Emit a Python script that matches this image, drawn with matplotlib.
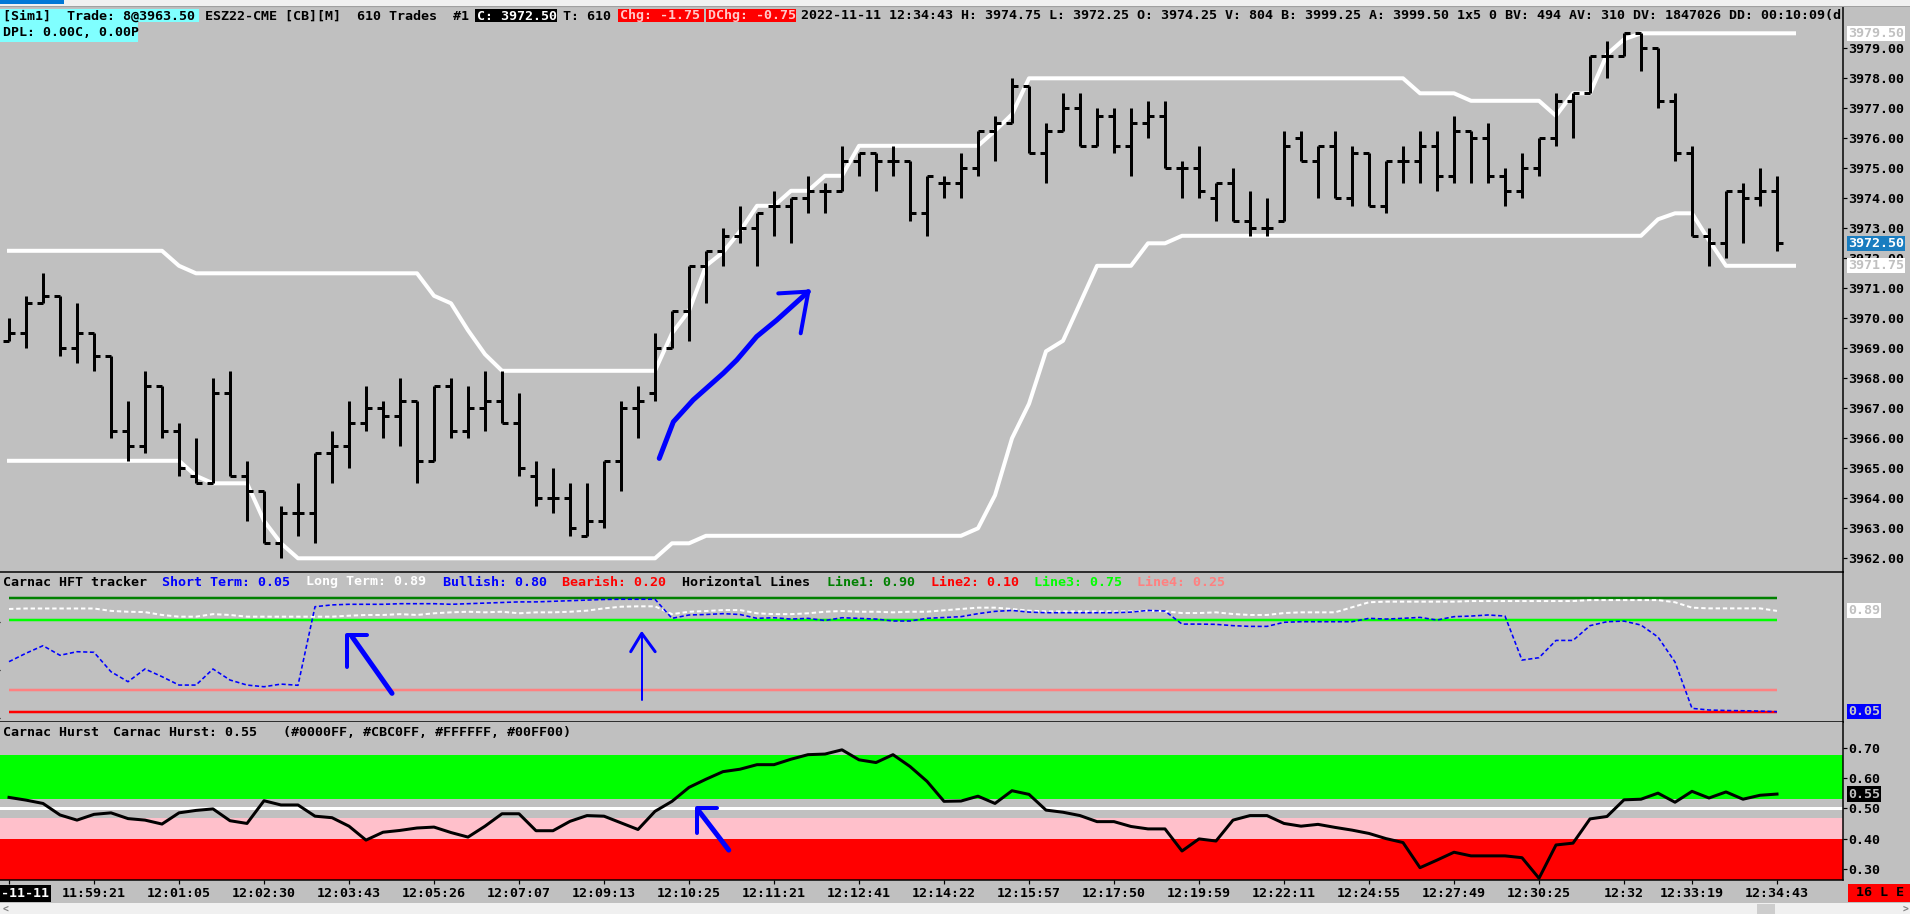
import matplotlib
matplotlib.use("Agg")
import matplotlib.pyplot as plt
import matplotlib.transforms as mtransforms
from matplotlib.lines import Line2D
from matplotlib.patches import Rectangle
from matplotlib.transforms import Bbox

# ---- bar data (ESZ22, one bar per 610 trades) ----
bar_open = [
  3969.25, 3969.5, 3970.5, 3970.75, 3969.0, 3969.5, 3968.75, 3966.25, 3965.75, 3967.75,
  3966.25, 3964.75, 3964.5, 3967.5, 3964.75, 3964.25, 3962.5, 3963.5, 3963.5, 3965.5,
  3965.75, 3966.5, 3967.0, 3966.75, 3967.25, 3965.25, 3967.75, 3966.25, 3967.0, 3967.25,
  3966.5, 3964.75, 3964.0, 3964.0, 3962.75, 3963.25, 3965.25, 3967.0, 3967.5, 3969.0,
  3970.25, 3971.75, 3972.25, 3972.75, 3973.0, 3973.75, 3973.75, 3974.0, 3974.25, 3974.25,
  3975.25, 3975.5, 3975.25, 3975.25, 3973.5, 3974.5, 3974.5, 3975.0, 3976.25, 3976.5,
  3977.75, 3975.5, 3976.25, 3977.0, 3975.75, 3976.75, 3975.75, 3976.5, 3976.75, 3975.0,
  3975.0, 3974.0, 3974.5, 3973.25, 3973.0, 3973.25, 3976.0, 3975.25, 3975.75, 3974.0,
  3975.5, 3973.75, 3975.25, 3975.25, 3975.75, 3974.75, 3976.25, 3976.0, 3974.75, 3974.25,
  3975.0, 3976.0, 3977.25, 3977.5, 3978.75, 3978.75, 3979.5, 3979.0, 3977.25, 3975.5,
  3972.75, 3972.5, 3974.25, 3974.0, 3974.25]
bar_high = [
  3970.0, 3970.75, 3971.5, 3970.75, 3970.5, 3969.5, 3968.75, 3967.25, 3968.25, 3967.75,
  3966.5, 3966.0, 3968.0, 3968.25, 3965.25, 3964.25, 3963.75, 3964.5, 3965.5, 3966.25,
  3967.25, 3967.75, 3967.25, 3968.0, 3967.25, 3967.75, 3968.0, 3967.75, 3968.25, 3968.25,
  3967.5, 3965.25, 3965.0, 3964.5, 3964.5, 3965.25, 3967.25, 3967.75, 3969.5, 3970.25,
  3971.75, 3972.25, 3973.0, 3973.75, 3973.5, 3974.25, 3974.0, 3974.75, 3974.5, 3975.75,
  3975.5, 3975.5, 3975.75, 3975.25, 3974.75, 3974.75, 3975.5, 3976.25, 3976.75, 3978.0,
  3977.75, 3976.5, 3977.5, 3977.5, 3977.0, 3977.0, 3977.0, 3977.25, 3977.25, 3975.25,
  3975.75, 3974.5, 3975.0, 3974.25, 3974.0, 3976.25, 3976.25, 3975.75, 3976.25, 3975.75,
  3975.5, 3975.25, 3975.75, 3976.25, 3976.25, 3976.75, 3976.25, 3976.5, 3975.0, 3975.5,
  3976.0, 3977.5, 3977.5, 3978.75, 3979.25, 3979.5, 3979.5, 3979.0, 3977.5, 3975.75,
  3973.0, 3974.25, 3974.5, 3975.0, 3974.75]
bar_low = [
  3969.25, 3969.0, 3970.5, 3968.75, 3968.5, 3968.25, 3966.0, 3965.25, 3965.5, 3966.0,
  3964.75, 3964.5, 3964.5, 3964.75, 3963.25, 3962.5, 3962.0, 3962.75, 3962.5, 3964.5,
  3965.0, 3966.25, 3966.0, 3965.75, 3964.5, 3965.25, 3966.0, 3966.0, 3966.25, 3966.5,
  3964.75, 3963.75, 3963.5, 3962.75, 3962.75, 3963.0, 3964.25, 3966.0, 3967.25, 3969.0,
  3969.25, 3970.5, 3971.75, 3972.5, 3971.75, 3972.75, 3972.5, 3973.5, 3973.5, 3974.25,
  3974.75, 3974.25, 3974.75, 3973.25, 3972.75, 3974.0, 3974.0, 3974.75, 3975.25, 3976.5,
  3975.5, 3974.5, 3976.25, 3975.75, 3975.75, 3975.5, 3974.75, 3976.0, 3975.0, 3974.0,
  3974.0, 3973.25, 3973.25, 3972.75, 3972.75, 3973.25, 3975.25, 3974.0, 3974.0, 3973.75,
  3973.75, 3973.5, 3974.5, 3974.5, 3974.25, 3974.5, 3974.5, 3974.5, 3973.75, 3974.0,
  3974.75, 3975.75, 3976.0, 3977.5, 3978.0, 3978.75, 3978.25, 3977.0, 3975.25, 3972.75,
  3971.75, 3972.0, 3972.5, 3973.75, 3972.25]
bar_close = [
  3969.5, 3970.5, 3970.75, 3969.0, 3969.5, 3968.75, 3966.25, 3965.75, 3967.75, 3966.25,
  3965.0, 3964.5, 3967.5, 3964.75, 3964.25, 3962.5, 3963.5, 3963.5, 3965.5, 3965.75,
  3966.5, 3967.0, 3966.75, 3967.25, 3965.25, 3967.75, 3966.25, 3967.0, 3967.25, 3966.5,
  3965.0, 3964.0, 3964.0, 3963.0, 3963.25, 3965.25, 3967.0, 3967.25, 3969.0, 3970.25,
  3971.75, 3972.25, 3972.75, 3973.0, 3973.5, 3973.75, 3974.0, 3974.25, 3974.25, 3975.25,
  3975.5, 3975.25, 3975.25, 3973.5, 3974.75, 3974.5, 3975.0, 3976.25, 3976.5, 3977.75,
  3975.5, 3976.25, 3977.0, 3975.75, 3976.75, 3975.75, 3976.5, 3976.75, 3975.0, 3975.0,
  3974.25, 3974.5, 3973.25, 3973.0, 3973.0, 3975.75, 3975.25, 3975.75, 3974.0, 3975.5,
  3973.75, 3975.25, 3975.25, 3975.75, 3974.75, 3976.25, 3976.0, 3974.75, 3974.25, 3975.0,
  3976.0, 3977.25, 3977.5, 3978.75, 3978.75, 3979.5, 3979.0, 3977.25, 3975.5, 3972.75,
  3972.5, 3974.25, 3974.0, 3974.25, 3972.5]

# channel lines (one point further than the bars)
upper_band = [
  3972.25, 3972.25, 3972.25, 3972.25, 3972.25, 3972.25, 3972.25, 3972.25, 3972.25, 3972.25,
  3971.75, 3971.5, 3971.5, 3971.5, 3971.5, 3971.5, 3971.5, 3971.5, 3971.5, 3971.5,
  3971.5, 3971.5, 3971.5, 3971.5, 3971.5, 3970.75, 3970.5, 3969.6, 3968.8, 3968.25,
  3968.25, 3968.25, 3968.25, 3968.25, 3968.25, 3968.25, 3968.25, 3968.25, 3968.25, 3969.5,
  3970.25, 3971.75, 3972.2, 3972.9, 3973.75, 3973.75, 3974.25, 3974.25, 3974.75, 3974.75,
  3975.75, 3975.75, 3975.75, 3975.75, 3975.75, 3975.75, 3975.75, 3975.75, 3976.25, 3976.8,
  3978.0, 3978.0, 3978.0, 3978.0, 3978.0, 3978.0, 3978.0, 3978.0, 3978.0, 3978.0,
  3978.0, 3978.0, 3978.0, 3978.0, 3978.0, 3978.0, 3978.0, 3978.0, 3978.0, 3978.0,
  3978.0, 3978.0, 3978.0, 3977.5, 3977.5, 3977.5, 3977.25, 3977.25, 3977.25, 3977.25,
  3977.25, 3976.75, 3977.5, 3977.5, 3978.8, 3979.3, 3979.5, 3979.5, 3979.5, 3979.5,
  3979.5, 3979.5, 3979.5, 3979.5, 3979.5, 3979.5]
lower_band = [
  3965.25, 3965.25, 3965.25, 3965.25, 3965.25, 3965.25, 3965.25, 3965.25, 3965.25, 3965.25,
  3965.25, 3964.75, 3964.5, 3964.5, 3964.5, 3963.25, 3962.5, 3962.0, 3962.0, 3962.0,
  3962.0, 3962.0, 3962.0, 3962.0, 3962.0, 3962.0, 3962.0, 3962.0, 3962.0, 3962.0,
  3962.0, 3962.0, 3962.0, 3962.0, 3962.0, 3962.0, 3962.0, 3962.0, 3962.0, 3962.5,
  3962.5, 3962.75, 3962.75, 3962.75, 3962.75, 3962.75, 3962.75, 3962.75, 3962.75, 3962.75,
  3962.75, 3962.75, 3962.75, 3962.75, 3962.75, 3962.75, 3962.75, 3963.0, 3964.1, 3966.0,
  3967.15, 3968.9, 3969.25, 3970.5, 3971.75, 3971.75, 3971.75, 3972.5, 3972.5, 3972.75,
  3972.75, 3972.75, 3972.75, 3972.75, 3972.75, 3972.75, 3972.75, 3972.75, 3972.75, 3972.75,
  3972.75, 3972.75, 3972.75, 3972.75, 3972.75, 3972.75, 3972.75, 3972.75, 3972.75, 3972.75,
  3972.75, 3972.75, 3972.75, 3972.75, 3972.75, 3972.75, 3972.75, 3973.3, 3973.5, 3973.5,
  3972.6, 3971.75, 3971.75, 3971.75, 3971.75, 3971.75]

# Carnac HFT tracker
short_term = [
  0.467, 0.537, 0.60, 0.52, 0.55, 0.545, 0.383, 0.30, 0.406, 0.342,
  0.272, 0.272, 0.406, 0.314, 0.272, 0.258, 0.28, 0.27, 0.925, 0.94,
  0.945, 0.945, 0.945, 0.95, 0.95, 0.95, 0.945, 0.95, 0.955, 0.96,
  0.965, 0.965, 0.97, 0.975, 0.98, 0.985, 0.987, 0.987, 0.987, 0.828,
  0.856, 0.86, 0.867, 0.86, 0.828, 0.833, 0.822, 0.828, 0.81, 0.833,
  0.828, 0.822, 0.806, 0.806, 0.828, 0.835, 0.842, 0.867, 0.886, 0.894,
  0.88, 0.875, 0.875, 0.875, 0.875, 0.875, 0.88, 0.894, 0.889, 0.78,
  0.78, 0.778, 0.767, 0.761, 0.761, 0.795, 0.80, 0.80, 0.80, 0.80,
  0.828, 0.822, 0.828, 0.836, 0.814, 0.842, 0.847, 0.856, 0.847, 0.48,
  0.50, 0.644, 0.644, 0.767, 0.80, 0.805, 0.772, 0.672, 0.464, 0.078,
  0.064, 0.06, 0.058, 0.055, 0.05]
long_term = [
  0.906, 0.91, 0.91, 0.91, 0.91, 0.91, 0.89, 0.883, 0.88, 0.856,
  0.842, 0.842, 0.863, 0.856, 0.842, 0.842, 0.842, 0.842, 0.842, 0.842,
  0.85, 0.856, 0.856, 0.863, 0.856, 0.87, 0.878, 0.883, 0.878, 0.883,
  0.87, 0.878, 0.878, 0.883, 0.892, 0.911, 0.925, 0.928, 0.928, 0.863,
  0.883, 0.889, 0.897, 0.897, 0.87, 0.863, 0.863, 0.87, 0.883, 0.889,
  0.883, 0.883, 0.878, 0.883, 0.883, 0.895, 0.906, 0.917, 0.917, 0.906,
  0.892, 0.886, 0.886, 0.886, 0.886, 0.886, 0.886, 0.892, 0.886, 0.872,
  0.872, 0.878, 0.864, 0.856, 0.856, 0.872, 0.878, 0.878, 0.878, 0.92,
  0.962, 0.967, 0.967, 0.967, 0.967, 0.967, 0.972, 0.972, 0.972, 0.972,
  0.972, 0.972, 0.972, 0.98, 0.98, 0.98, 0.98, 0.98, 0.962, 0.917,
  0.911, 0.911, 0.911, 0.911, 0.89]
hft_levels = [0.90, 0.10, 0.75, 0.25]
hft_level_colors = ['#008000', '#FF0000', '#00FF00', '#FF8080']

# Carnac Hurst
hurst = [
  0.536, 0.527, 0.516, 0.478, 0.461, 0.48, 0.485, 0.466, 0.461, 0.448,
  0.485, 0.493, 0.498, 0.459, 0.45, 0.525, 0.511, 0.511, 0.474, 0.469,
  0.441, 0.395, 0.421, 0.427, 0.435, 0.438, 0.42, 0.405, 0.441, 0.482,
  0.482, 0.426, 0.426, 0.457, 0.476, 0.474, 0.452, 0.43, 0.49, 0.523,
  0.569, 0.596, 0.621, 0.629, 0.644, 0.644, 0.662, 0.677, 0.679, 0.693,
  0.66, 0.651, 0.677, 0.638, 0.589, 0.523, 0.524, 0.54, 0.516, 0.558,
  0.546, 0.494, 0.487, 0.476, 0.456, 0.456, 0.44, 0.432, 0.432, 0.359,
  0.399, 0.392, 0.461, 0.476, 0.476, 0.45, 0.441, 0.447, 0.437, 0.428,
  0.417, 0.40, 0.387, 0.304, 0.329, 0.355, 0.343, 0.343, 0.343, 0.337,
  0.269, 0.379, 0.385, 0.465, 0.473, 0.528, 0.53, 0.55, 0.52, 0.556,
  0.534, 0.554, 0.53, 0.543, 0.547]
hurst_green = (0.53, 0.676)
hurst_pink = (0.398, 0.467)
hurst_red = (0.0, 0.398)
hurst_mid = 0.50

# axis labels
tick_bars = [0, 5, 10, 15, 20, 25, 30, 35, 40, 45, 50, 55, 60, 65, 70, 75, 80, 85, 90, 95, 99, 104]
tick_times = ['2022-11-11', '11:59:21', '12:01:05', '12:02:30', '12:03:43', '12:05:26',
              '12:07:07', '12:09:13', '12:10:25', '12:11:21', '12:12:41', '12:14:22',
              '12:15:57', '12:17:50', '12:19:59', '12:22:11', '12:24:55', '12:27:49',
              '12:30:25', '12:32', '12:33:19', '12:34:43']
price_ticks = [3962, 3963, 3964, 3965, 3966, 3967, 3968, 3969, 3970,
               3971, 3972, 3973, 3974, 3975, 3976, 3977, 3978, 3979]
hft_ticks = [0.80, 0.40, 0.00]
hurst_ticks = [0.30, 0.40, 0.50, 0.60, 0.70]

# hand drawn blue arrows (bar index, value)
trend_arrow = [(38.25, 3965.33), (39.08, 3966.55), (40.25, 3967.28), (42.02, 3968.17),
               (42.81, 3968.61), (43.98, 3969.39), (45.16, 3969.94), (47.02, 3970.89)]
trend_arrow_head = [(45.25, 3970.83), (47.02, 3970.89), (46.57, 3969.5)]
hft_arrow = [(22.53, 0.203), (20.18, 0.675)]
hft_arrow_head = [(21.06, 0.689), (19.88, 0.689), (19.88, 0.425)]
hft_pointer = [(37.22, 0.147), (37.22, 0.703)]
hft_pointer_head = [(36.57, 0.55), (37.22, 0.703), (38.01, 0.55)]
hurst_arrow = [(42.34, 0.362), (40.54, 0.494)]
hurst_arrow_head = [(41.62, 0.501), (40.46, 0.501), (40.46, 0.4175)]

W, H = 1910, 914
BG = '#C0C0C0'
PT = 0.72          # points per pixel at 100 dpi
AXIS_X = 1843      # pixel column of the price scale

plt.rcParams['font.family'] = ['DejaVu Sans Mono']
plt.rcParams['font.weight'] = 'bold'
plt.rcParams['font.size'] = 9.6

fig = plt.figure(figsize=(W / 100, H / 100), dpi=100, facecolor=BG)
PX = mtransforms.Affine2D().scale(1, -1).translate(0, H)  # pixels, origin top-left

x_lim = (-9 / 17, (AXIS_X - 9) / 17)


def add_pane(top, bottom, ylim):
  ax = fig.add_axes([0, 1 - bottom / H, AXIS_X / W, (bottom - top) / H])
  ax.set_facecolor(BG)
  ax.set_xlim(*x_lim)
  ax.set_ylim(*ylim)
  for s in ax.spines.values():
    s.set_visible(False)
  for name in ('right', 'bottom'):
    ax.spines[name].set_visible(True)
    ax.spines[name].set_color('black')
    ax.spines[name].set_linewidth(1.5 * PT)
  ax.yaxis.tick_right()
  ax.tick_params(axis='y', which='both', right=True, left=False, labelright=True,
                 labelleft=False, direction='out', length=4 * PT, width=1.2 * PT,
                 pad=0.8, labelsize=9.6)
  ax.set_xticks([])
  return ax


def value_box(ax, y, text, fg, bg):
  ax.annotate(text, xy=(1, y), xycoords=('axes fraction', 'data'), xytext=(5, 0),
              textcoords='offset pixels', ha='left', va='center', color=fg,
              fontsize=9.6, annotation_clip=False, zorder=10,
              bbox=dict(boxstyle='square,pad=0.08', fc=bg, ec='none'))


def draw_path(ax, pts, lw, color='#0000FF'):
  xs, ys = zip(*pts)
  ax.plot(xs, ys, color=color, lw=lw * PT, solid_capstyle='round',
          solid_joinstyle='round', zorder=6)


bars = list(range(len(bar_close)))
band_x = list(range(len(upper_band)))

# ---- price pane ----
ax_main = add_pane(6, 572, (3979 - (572 - 48.3) / 30, 3979 + (48.3 - 6) / 30))
ax_main.spines['top'].set_visible(True)
ax_main.spines['top'].set_color('#808080')
ax_main.set_yticks(price_ticks, labels=['%.2f' % p for p in price_ticks])

ax_main.plot(band_x, upper_band, color='white', lw=4 * PT, solid_joinstyle='round', zorder=2)
ax_main.plot(band_x, lower_band, color='white', lw=4 * PT, solid_joinstyle='round', zorder=2)
tick = 0.38
ax_main.vlines(bars, bar_low, bar_high, color='black', lw=3 * PT, zorder=3)
ax_main.hlines(bar_open, [b - tick for b in bars], bars, color='black', lw=3 * PT, zorder=3)
ax_main.hlines(bar_close, bars, [b + tick for b in bars], color='black', lw=3 * PT, zorder=3)
draw_path(ax_main, trend_arrow, 5)
draw_path(ax_main, trend_arrow_head, 4)

value_box(ax_main, upper_band[-1], '%.2f' % upper_band[-1], '#C0C0C0', 'white')
value_box(ax_main, bar_close[-1], '%.2f' % bar_close[-1], 'white', '#1A7DC0')
value_box(ax_main, lower_band[-1], '%.2f' % lower_band[-1], '#C0C0C0', 'white')

# ---- HFT tracker pane (its level lines use their own scale) ----
ax_hft = add_pane(572, 722, (0.80 - (722 - 621.7) / 120, 0.80 + (621.7 - 572) / 120))
ax_hft.set_yticks(hft_ticks, labels=['%.2f' % v for v in hft_ticks])
ax_lvl = ax_hft.twinx()
ax_lvl.set_ylim(0.10 - (722 - 711.7) / 141.75, 0.90 + (598.3 - 572) / 141.75)
ax_lvl.set_yticks([])
for s in ax_lvl.spines.values():
  s.set_visible(False)
ax_lvl.set_zorder(ax_hft.get_zorder() - 1)
ax_lvl.set_facecolor(BG)
ax_hft.patch.set_visible(False)
ax_lvl.hlines(hft_levels, 0, bars[-1], colors=hft_level_colors, lw=2.5 * PT)

ax_hft.plot(bars, long_term, color='white', lw=2 * PT, linestyle=(0, (2.2, 1.4)), zorder=3)
ax_hft.plot(bars, short_term, color='#0000FF', lw=1.6 * PT, linestyle=(0, (2.6, 1.6)), zorder=4)
draw_path(ax_hft, hft_arrow, 5)
draw_path(ax_hft, hft_arrow_head, 4)
draw_path(ax_hft, hft_pointer, 2)
draw_path(ax_hft, hft_pointer_head, 3)
value_box(ax_hft, long_term[-1], '%.2f' % long_term[-1], '#C0C0C0', 'white')
value_box(ax_hft, short_term[-1], '%.2f' % short_term[-1], '#C8C8C8', '#0000FF')

# ---- Hurst pane ----
ax_h = add_pane(722, 880, (0.5 - (880 - 808.3) / 303, 0.5 + (808.3 - 722) / 303))
ax_h.set_yticks(hurst_ticks, labels=['%.2f' % v for v in hurst_ticks])
ax_h.axhspan(*hurst_green, color='#00FF00', lw=0, zorder=1)
ax_h.axhspan(*hurst_pink, color='#FFC0CB', lw=0, zorder=1)
ax_h.axhspan(*hurst_red, color='#FF0000', lw=0, zorder=1)
ax_h.axhline(hurst_mid, color='white', lw=3 * PT, zorder=2)
ax_h.plot(bars, hurst, color='black', lw=3 * PT, solid_joinstyle='round', zorder=4)
draw_path(ax_h, hurst_arrow, 5)
draw_path(ax_h, hurst_arrow_head, 4)
value_box(ax_h, hurst[-1], '%.2f' % hurst[-1], '#C0C0C0', 'black')

ax_h.set_xticks(tick_bars, labels=tick_times)
ax_h.tick_params(axis='x', direction='out', length=4 * PT, width=1.2 * PT, pad=2.2,
                 labelsize=9.6)
first = ax_h.get_xticklabels()[0]
first.set_color('white')
first.set_bbox(dict(boxstyle='square,pad=0.12', fc='black', ec='none'))

# ---- window chrome and header texts (pixel positions) ----
def rect(x, y, w, h, color, z=1):
  fig.add_artist(Rectangle((x, y), w, h, transform=PX, facecolor=color, edgecolor='none', zorder=z))


def label(x, y, s, color='black', clip=True, ha='left', size=9.6):
  t = fig.text(x, y, s, transform=PX, color=color, ha=ha, va='center', fontsize=size, zorder=5)
  if clip:
    t.set_clip_box(Bbox([[0, 0], [AXIS_X, H]]))
    t.set_clip_on(True)
  return t


rect(0, 0, W, 6, '#F0F0F0')
rect(0, 0, 64, 4, '#0078D7')
fig.add_artist(Line2D([0, W], [6, 6], transform=PX, color='#A0A0A0', lw=1 * PT))

# main pane header
rect(0, 9, 199, 13, '#80FFFF')
rect(0, 22, 138, 20, '#80FFFF')
rect(475, 9, 82, 13, 'black')
rect(618, 9, 86, 13, '#FF0000')
rect(706, 9, 90, 13, '#FF0000')
label(3, 16, '[Sim1]  Trade: 8@3963.50')
label(205, 16, 'ESZ22-CME [CB][M]  610 Trades  #1')
label(477, 16, 'C: 3972.50', 'white')
label(563, 16, 'T: 610')
label(620, 16, 'Chg: -1.75', '#FFC8C8')
label(708, 16, 'DChg: -0.75', '#FFC8C8')
label(801, 16, '2022-11-11 12:34:43 H: 3974.75 L: 3972.25 O: 3974.25 V: 804 B: 3999.25 '
               'A: 3999.50 1x5 0 BV: 494 AV: 310 DV: 1847026 DD: 00:10:09(d)')
label(3, 33, 'DPL: 0.00C, 0.00P')

# HFT tracker header
label(3, 582, 'Carnac HFT tracker')
label(162, 582, 'Short Term: 0.05', '#0000FF')
label(306, 582, 'Long Term: 0.89', 'white')
label(443, 582, 'Bullish: 0.80', '#0000FF')
label(562, 582, 'Bearish: 0.20', '#FF0000')
label(682, 582, 'Horizontal Lines')
label(827, 582, 'Line1: 0.90', '#008000')
label(931, 582, 'Line2: 0.10', '#FF0000')
label(1034, 582, 'Line3: 0.75', '#00FF00')
label(1137, 582, 'Line4: 0.25', '#FF8080')

# Hurst header
label(3, 733, 'Carnac Hurst')
label(113, 733, 'Carnac Hurst: 0.55')
label(283, 733, '(#0000FF, #CBC0FF, #FFFFFF, #00FF00)')

# status box and scroll bar
rect(1848, 884, 62, 18, '#FF0000')
label(1880, 893, '16 L E', clip=False, ha='center')
rect(0, 903, W, 11, '#F0F0F0')
rect(1757, 904, 18, 10, '#CDCDCD')
label(3, 909, '<', '#808080', clip=False, size=7)
label(1903, 909, '>', '#808080', clip=False, size=7)

fig.savefig('out.png', dpi=100, facecolor=BG)
